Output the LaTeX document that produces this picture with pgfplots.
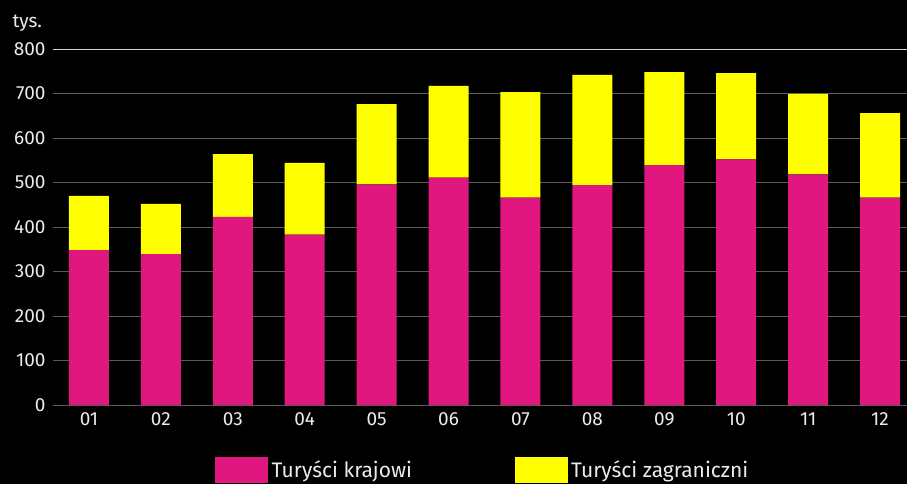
\documentclass[border=0pt]{standalone}
\usepackage{pgfplots}
\pgfplotsset{compat=1.18}
\usepackage{fontspec}
\setmainfont{Fira Sans}
\definecolor{mag}{RGB}{224,23,127}
\definecolor{yel}{RGB}{255,255,0}
\definecolor{gridc}{RGB}{90,90,90}
\definecolor{gridtop}{RGB}{210,210,210}
\definecolor{txt}{RGB}{235,235,235}
\begin{document}
\begin{tikzpicture}
\fill[black] (0,0) rectangle (907bp,484bp);
\clip (0,0) rectangle (907bp,484bp);
\useasboundingbox (0,0) rectangle (907bp,484bp);
\begin{axis}[
  at={(53bp,79bp)}, anchor=south west,
  scale only axis, width=854bp, height=356bp,
  ybar stacked, bar width=40bp,
  xmin=-0.5, xmax=11.375, ymin=0, ymax=800,
  xtick={0,...,11},
  xticklabels={01,02,03,04,05,06,07,08,09,10,11,12},
  ytick={0,100,...,700},
  extra y ticks={800},
  extra y tick style={grid style={draw=gridtop, line width=1bp}},
  ymajorgrids, grid style={draw=gridc, line width=1bp},
  axis line style={draw=none},
  major tick length=0pt,
  tick label style={font=\fontsize{19bp}{23bp}\selectfont, text=txt},
  /pgf/number format/assume math mode=true,
  yticklabel style={anchor=east, xshift=-4bp},
  xticklabel style={anchor=north, yshift=-4bp},
  ylabel={tys.},
  ylabel style={rotate=-90, anchor=base west, at={(axis description cs:-0.0515,1.0618)}, font=\fontsize{19bp}{23bp}\selectfont, text=txt},
  legend columns=2,
  legend style={at={(axis description cs:0.1897,-0.183)}, anchor=west, draw=none, fill=none, inner sep=0pt,
    font=\fontsize{21bp}{25bp}\selectfont, text=txt,
    /tikz/every even column/.append style={column sep=99bp},
    nodes={inner sep=3.5bp}},
  legend image code/.code={\fill[#1] (0bp,-13bp) rectangle (53bp,13bp);},
]
\addplot+[fill=mag, draw=none] coordinates {(0,348) (1,339) (2,423) (3,383) (4,496) (5,511) (6,466) (7,494) (8,539) (9,552) (10,518) (11,466)};
\addplot+[fill=yel, draw=none] coordinates {(0,122) (1,113) (2,141) (3,161) (4,180) (5,206) (6,237) (7,248) (8,209) (9,194) (10,181) (11,190)};
\legend{Turyści krajowi, Turyści zagraniczni}
\end{axis}
\end{tikzpicture}
\end{document}
